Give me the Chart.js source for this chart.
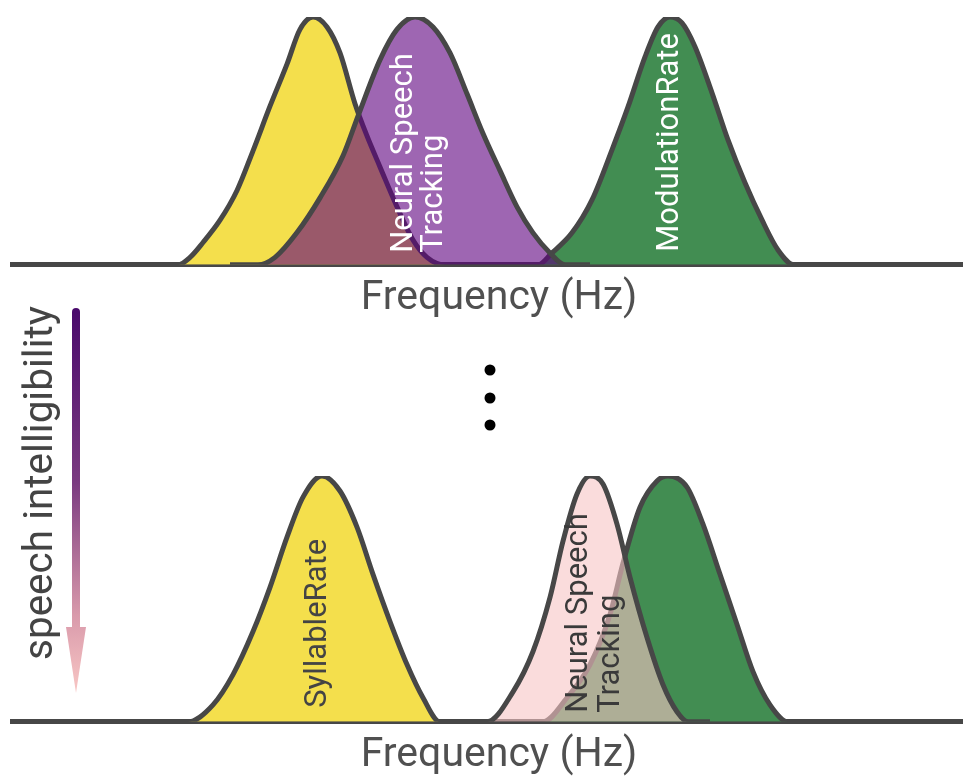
<!DOCTYPE html>
<html>
<head>
<meta charset="utf-8">
<script src="https://cdn.jsdelivr.net/npm/chart.js@4.4.1/dist/chart.umd.min.js"></script>
<style>
  html, body { margin: 0; padding: 0; background: #fff; overflow: hidden; }
  #wrap { position: relative; width: 963px; height: 780px; overflow: hidden; }
  #wrap canvas { position: absolute; left: 0; top: 0; }
</style>
</head>
<body>
<div id="wrap">
  <canvas id="topChart" width="986" height="780"></canvas>
  <canvas id="bottomChart" width="986" height="780"></canvas>
</div>
<script>
// top panel (x = frequency, y = relative power)
const syllableTopX = [150, 178, 190, 203, 220, 237, 253, 270, 287, 300, 313, 327, 340, 355, 367, 380, 397, 413, 427, 445, 470];
const syllableTopY = [0, 0, 0.03, 0.09, 0.18, 0.30, 0.46, 0.64, 0.81, 0.95, 1, 0.96, 0.855, 0.65, 0.52, 0.395, 0.234, 0.10, 0.03, 0, 0];
const trackingTopX = [230, 258, 275, 297, 320, 343, 358, 380, 397, 415, 433, 450, 467, 483, 500, 517, 533, 550, 565, 590];
const trackingTopY = [0, 0, 0.03, 0.13, 0.27, 0.44, 0.60, 0.827, 0.95, 1, 0.96, 0.855, 0.69, 0.53, 0.38, 0.234, 0.129, 0.048, 0, 0];
const modulationTopX = [515, 538, 552, 572, 592, 612, 628, 645, 658, 670, 682, 695, 712, 728, 745, 762, 778, 794, 820];
const modulationTopY = [0, 0, 0.048, 0.129, 0.262, 0.464, 0.637, 0.839, 0.96, 1, 0.976, 0.88, 0.694, 0.504, 0.331, 0.181, 0.06, 0, 0];

// bottom panel
const syllableBotX = [160, 188, 213, 233, 253, 270, 287, 303, 322, 340, 357, 373, 390, 407, 423, 440, 470];
const syllableBotY = [0, 0, 0.069, 0.192, 0.367, 0.547, 0.751, 0.914, 1, 0.939, 0.792, 0.60, 0.408, 0.233, 0.098, 0, 0];
const trackingBotX = [460, 487, 513, 533, 550, 563, 577, 590, 603, 617, 630, 647, 663, 677, 688, 710];
const trackingBotY = [0, 0, 0.122, 0.286, 0.506, 0.735, 0.927, 1, 0.967, 0.804, 0.588, 0.343, 0.151, 0.041, 0, 0];
const modulationBotX = [515, 543, 567, 590, 610, 623, 640, 657, 668, 687, 703, 720, 737, 753, 770, 788, 810];
const modulationBotY = [0, 0, 0.098, 0.233, 0.437, 0.645, 0.873, 0.98, 1, 0.955, 0.804, 0.60, 0.396, 0.204, 0.069, 0, 0];

const axisTitle = "Frequency (Hz)";
const sideTitle = "speech intelligibility";

const OUTLINE = "#474747";
const FONT = "Roboto";

const pts = (xs, ys) => xs.map((x, i) => ({ x: x, y: ys[i] }));

const curve = (data, fill, order) => ({
  data: data,
  backgroundColor: fill,
  borderColor: OUTLINE,
  borderWidth: 5,
  fill: "origin",
  pointRadius: 0,
  cubicInterpolationMode: "monotone",
  borderJoinStyle: "round",
  order: order,
});

// rotated labels inside the bumps
const bumpLabels = {
  id: "bumpLabels",
  afterDatasetsDraw(chart, args, opts) {
    const ctx = chart.ctx;
    const xs = chart.scales.x, ys = chart.scales.y;
    ctx.save();
    ctx.font = "31px " + FONT;
    ctx.textBaseline = "middle";
    ctx.textAlign = "left";
    opts.items.forEach((it) => {
      it.lines.forEach((line, i) => {
        ctx.save();
        ctx.translate(xs.getPixelForValue(it.x) + i * it.gap, ys.getPixelForValue(0) - it.lift);
        ctx.rotate(-Math.PI / 2);
        ctx.fillStyle = it.color;
        ctx.fillText(line, 0, 0);
        ctx.restore();
      });
    });
    ctx.restore();
  },
};

// arrow, side text and the dots between panels
const decor = {
  id: "decor",
  afterDraw(chart) {
    const ctx = chart.ctx;
    ctx.save();
    const g = ctx.createLinearGradient(0, 310, 0, 692);
    g.addColorStop(0, "#4a0a6c");
    g.addColorStop(0.45, "#7a3a80");
    g.addColorStop(0.8, "#d99aab");
    g.addColorStop(1, "#f8c6c4");
    ctx.strokeStyle = g;
    ctx.fillStyle = g;
    ctx.lineWidth = 8;
    ctx.lineCap = "round";
    ctx.beginPath();
    ctx.moveTo(76, 312);
    ctx.lineTo(76, 630);
    ctx.stroke();
    ctx.beginPath();
    ctx.moveTo(66, 627);
    ctx.lineTo(86, 627);
    ctx.lineTo(76, 693);
    ctx.closePath();
    ctx.fill();

    ctx.translate(42, 660);
    ctx.rotate(-Math.PI / 2);
    ctx.font = "40.5px " + FONT;
    ctx.fillStyle = "#444";
    ctx.textBaseline = "middle";
    ctx.fillText(sideTitle, 0, 0);
    ctx.restore();

    ctx.save();
    ctx.fillStyle = "#000";
    [370, 398, 425].forEach((y) => {
      ctx.beginPath();
      ctx.arc(490, y, 5.5, 0, Math.PI * 2);
      ctx.fill();
    });
    ctx.restore();
  },
};

const baseOptions = (padTop, padBottom, labels) => ({
  responsive: false,
  animation: false,
  layout: { padding: { left: 12, right: 0, top: padTop, bottom: padBottom } },
  plugins: {
    legend: { display: false },
    tooltip: { enabled: false },
    bumpLabels: { items: labels },
  },
  scales: {
    x: {
      type: "linear",
      min: 12,
      max: 986,
      z: 1,
      grid: { display: false, drawTicks: false },
      border: { display: true, color: OUTLINE, width: 5 },
      ticks: { display: false },
      title: {
        display: true,
        text: axisTitle,
        color: "#505050",
        font: { family: FONT, size: 41, lineHeight: 1.2 },
        padding: { top: 9, bottom: 0 },
      },
    },
    y: { display: false, min: 0, max: 1 },
  },
});

const pintarGraficas = () => {
  new Chart(document.getElementById("topChart"), {
    type: "line",
    data: {
      datasets: [
        curve(pts(trackingTopX, trackingTopY), "rgba(93,0,127,0.6)", 0),
        curve(pts(modulationTopX, modulationTopY), "#428d52", 1),
        curve(pts(syllableTopX, syllableTopY), "#f4df4c", 2),
      ],
    },
    options: baseOptions(17, 457, [
      { lines: ["Neural Speech", "Tracking"], x: 404, lift: 12, gap: 30, color: "#fff" },
      { lines: ["ModulationRate"], x: 670, lift: 13, gap: 30, color: "#fff" },
    ]),
    plugins: [bumpLabels, decor],
  });

  new Chart(document.getElementById("bottomChart"), {
    type: "line",
    data: {
      datasets: [
        curve(pts(trackingBotX, trackingBotY), "rgba(247,197,197,0.6)", 0),
        curve(pts(modulationBotX, modulationBotY), "#428d52", 1),
        curve(pts(syllableBotX, syllableBotY), "#f4df4c", 2),
      ],
    },
    options: baseOptions(476, 0, [
      { lines: ["SyllableRate"], x: 318, lift: 14, gap: 30, color: "#444" },
      { lines: ["Neural Speech", "Tracking"], x: 579, lift: 9, gap: 32, color: "#3a3a3a" },
    ]),
    plugins: [bumpLabels],
  });
};

window.addEventListener("load", pintarGraficas);
</script>
</body>
</html>
